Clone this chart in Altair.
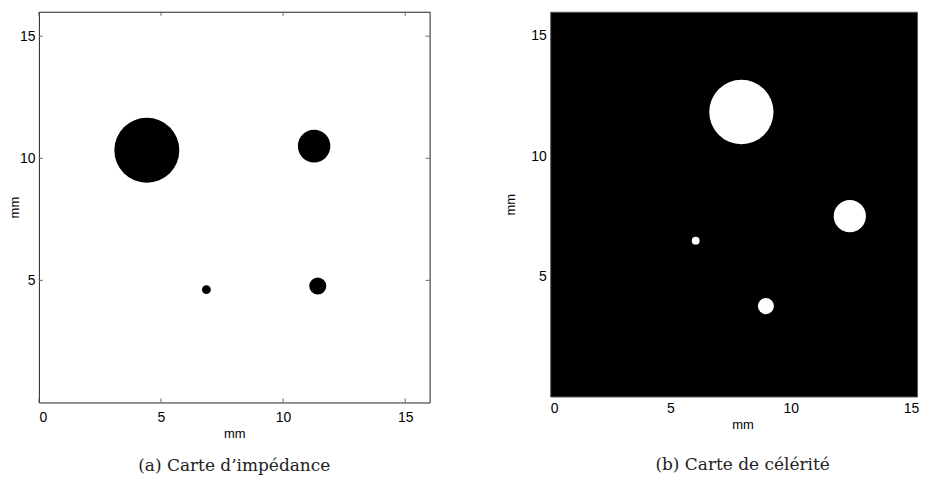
import altair as alt
import pandas as pd

# ---- data ----
x_ticks = [0, 5, 10, 15]
y_ticks = [5, 10, 15]

imp_x = [4.42, 11.27, 6.86, 11.42]
imp_y = [10.33, 10.50, 4.62, 4.77]
imp_r = [1.33, 0.665, 0.18, 0.35]

cel_x = [7.95, 12.46, 6.05, 8.97]
cel_y = [11.83, 7.50, 6.48, 3.76]
cel_r = [1.315, 0.66, 0.16, 0.33]

captions = ["(a)  Carte d’impédance", "(b)  Carte de célérité"]

# ---- layout ----
LW = LH = 392
RW, RH = 368, 386
L_ppu = LW / 16.0
R_ppu = RH / 16.0

AX_FONT = "Liberation Sans"
CAP_FONT = "DejaVu Serif"


def panel(xs, ys, rs, w, h, ppu, xmax, dot_color, bg, border, tick_color, caption,
          ypad_title, xlab_pad, cap_offset, cap_dx, xtitle_x):
    df = pd.DataFrame({"x": xs, "y": ys, "r": rs})
    df["d2"] = (2 * df["r"]) ** 2
    xsc = alt.Scale(domain=[0, xmax], nice=False, zero=False)
    ysc = alt.Scale(domain=[0, 16], nice=False, zero=False)
    xax = alt.Axis(values=x_ticks, title="mm", labelPadding=xlab_pad, titlePadding=3,
                   format="d", titleX=xtitle_x)
    yax = alt.Axis(values=y_ticks, title="mm", labelPadding=4, titlePadding=ypad_title,
                   format="d")

    circles = alt.Chart(df).mark_circle(color=dot_color, opacity=1, strokeWidth=0).encode(
        x=alt.X("x:Q", scale=xsc, axis=xax),
        y=alt.Y("y:Q", scale=ysc, axis=yax),
        size=alt.Size("d2:Q", scale=alt.Scale(domain=[0, 1], range=[0, ppu ** 2]),
                      legend=None),
    )
    layers = [circles]
    if tick_color is not None:
        tx = pd.DataFrame({"x": x_ticks})
        ty = pd.DataFrame({"y": y_ticks})
        rx = alt.Chart(tx).mark_rule(color=tick_color, strokeWidth=1)
        ry = alt.Chart(ty).mark_rule(color=tick_color, strokeWidth=1)
        X = alt.X("x:Q", scale=xsc, axis=xax)
        Y = alt.Y("y:Q", scale=ysc, axis=yax)
        layers += [
            rx.encode(x=X, y=alt.value(h), y2=alt.value(h - 4)),
            rx.encode(x=X, y=alt.value(0), y2=alt.value(4)),
            ry.encode(y=Y, x=alt.value(0), x2=alt.value(4)),
            ry.encode(y=Y, x=alt.value(w), x2=alt.value(w - 4)),
        ]
    return alt.layer(*layers).properties(
        width=w, height=h,
        view=alt.ViewBackground(fill=bg, stroke=border, strokeWidth=1),
        title=alt.TitleParams(caption, orient="bottom", anchor="middle", font=CAP_FONT,
                              fontSize=17, fontWeight="normal", color="#222",
                              offset=cap_offset, dx=cap_dx),
    )


left = panel(imp_x, imp_y, imp_r, LW, LH, L_ppu, 16, "black", "white", "#222", "#666",
             captions[0], ypad_title=-2, xlab_pad=8, cap_offset=18, cap_dx=0,
             xtitle_x=LW / 2)
right = panel(cel_x, cel_y, cel_r, RW, RH, R_ppu, RW / R_ppu, "white", "black", "#555", None,
              captions[1], ypad_title=13, xlab_pad=5, cap_offset=26, cap_dx=9,
              xtitle_x=RH / 2)

chart = alt.hconcat(left, right, spacing=73).properties(
    padding={"left": -1, "top": 2, "right": 0, "bottom": 0}
).configure_axis(
    grid=False, domain=False, ticks=False,
    labelFont=AX_FONT, labelFontSize=14, labelColor="black",
    titleFont=AX_FONT, titleFontSize=13, titleFontWeight="normal", titleColor="black",
).configure_view(continuousWidth=300)

chart.save("out.html", embed_options={"renderer": "svg", "actions": False})
